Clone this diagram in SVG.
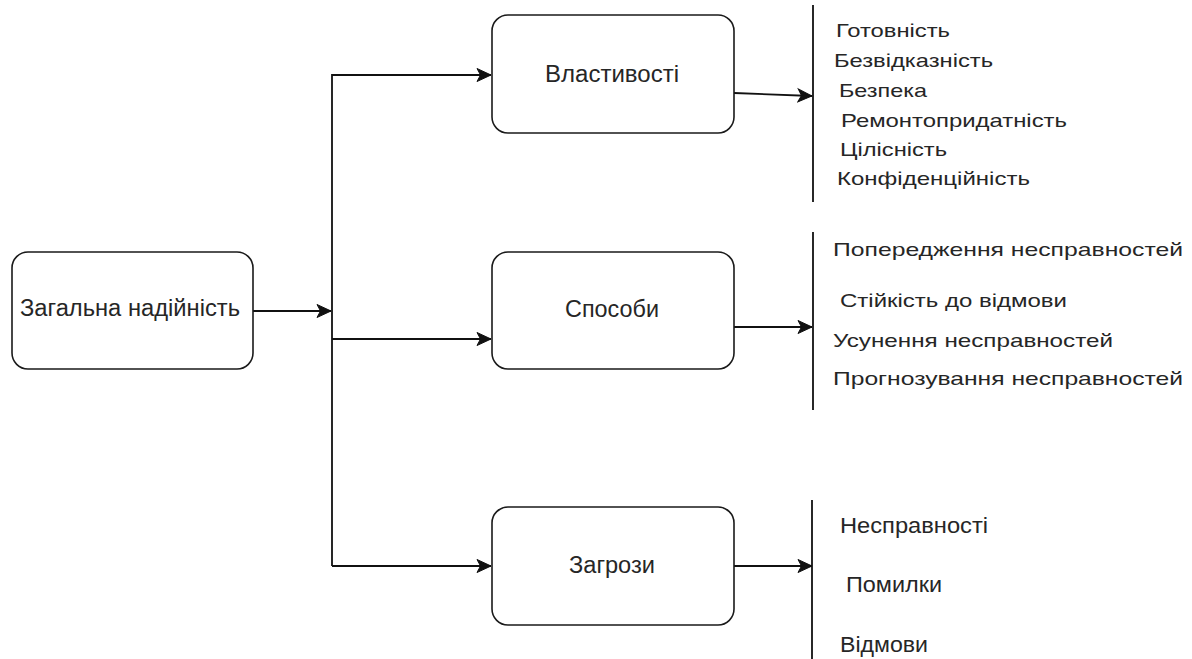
<svg xmlns="http://www.w3.org/2000/svg" width="1192" height="659" viewBox="0 0 1192 659">
  <style>
    .box { fill: #ffffff; stroke: #1a1a1a; stroke-width: 1.6; }
    .conn { fill: none; stroke: #111111; stroke-width: 1.8; }
    .bar { fill: none; stroke: #111111; stroke-width: 1.8; }
    .lbl { font-family: "Liberation Sans", Arial, sans-serif; fill: #262626; }
    .node { font-size: 23px; }
    .top { font-size: 18.5px; }
    .bot { font-size: 22px; }
  </style>
  <defs>
    <marker id="arr" viewBox="0 0 16 16" refX="15" refY="8" markerWidth="16" markerHeight="16" orient="auto" markerUnits="userSpaceOnUse">
      <path d="M1,1.5 L15,8 L1,14.5 L4.5,8 Z" fill="#111111" stroke="#111111" stroke-width="1" stroke-linejoin="miter"/>
    </marker>
  </defs>
  <rect width="1192" height="659" fill="#ffffff"/>

  <g id="connectors">
    <line class="conn" x1="253" y1="311" x2="331" y2="311" marker-end="url(#arr)"/>
    <polyline class="conn" points="332,566 332,75 491,75" marker-end="url(#arr)"/>
    <line class="conn" x1="332" y1="339" x2="491" y2="339" marker-end="url(#arr)"/>
    <line class="conn" x1="332" y1="566" x2="491" y2="566" marker-end="url(#arr)"/>
    <line class="conn" x1="734" y1="93" x2="812" y2="96" marker-end="url(#arr)"/>
    <line class="conn" x1="734" y1="327" x2="812" y2="327" marker-end="url(#arr)"/>
    <line class="conn" x1="734" y1="566" x2="812" y2="566" marker-end="url(#arr)"/>
  </g>

  <g id="node-general">
    <rect class="box" x="12" y="252" width="241" height="117" rx="16" ry="16"/>
    <text class="lbl node" x="20" y="316" textLength="220" lengthAdjust="spacingAndGlyphs">Загальна надійність</text>
  </g>

  <g id="node-properties">
    <rect class="box" x="492" y="15" width="242" height="118" rx="16" ry="16"/>
    <text class="lbl node" x="545" y="82" textLength="134" lengthAdjust="spacingAndGlyphs">Властивості</text>
  </g>

  <g id="node-methods">
    <rect class="box" x="492" y="252" width="242" height="117" rx="16" ry="16"/>
    <text class="lbl node" x="565" y="317" textLength="94" lengthAdjust="spacingAndGlyphs">Способи</text>
  </g>

  <g id="node-threats">
    <rect class="box" x="492" y="507" width="242" height="118" rx="16" ry="16"/>
    <text class="lbl node" x="569" y="573" textLength="86" lengthAdjust="spacingAndGlyphs">Загрози</text>
  </g>

  <g id="list-properties">
    <line class="bar" x1="813" y1="5" x2="813" y2="202"/>
    <text class="lbl top" x="836" y="37" textLength="114" lengthAdjust="spacingAndGlyphs">Готовність</text>
    <text class="lbl top" x="834" y="67" textLength="159" lengthAdjust="spacingAndGlyphs">Безвідказність</text>
    <text class="lbl top" x="839" y="97" textLength="88" lengthAdjust="spacingAndGlyphs">Безпека</text>
    <text class="lbl top" x="841" y="127" textLength="226" lengthAdjust="spacingAndGlyphs">Ремонтопридатність</text>
    <text class="lbl top" x="840" y="156" textLength="107" lengthAdjust="spacingAndGlyphs">Цілісність</text>
    <text class="lbl top" x="837" y="185" textLength="193" lengthAdjust="spacingAndGlyphs">Конфіденційність</text>
  </g>

  <g id="list-methods">
    <line class="bar" x1="813" y1="232" x2="813" y2="410"/>
    <text class="lbl top" x="833" y="256" textLength="350" lengthAdjust="spacingAndGlyphs">Попередження несправностей</text>
    <text class="lbl top" x="840" y="307" textLength="227" lengthAdjust="spacingAndGlyphs">Стійкість до відмови</text>
    <text class="lbl top" x="833" y="347" textLength="280" lengthAdjust="spacingAndGlyphs">Усунення несправностей</text>
    <text class="lbl top" x="833" y="385" textLength="350" lengthAdjust="spacingAndGlyphs">Прогнозування несправностей</text>
  </g>

  <g id="list-threats">
    <line class="bar" x1="812" y1="500" x2="812" y2="659"/>
    <text class="lbl bot" x="840" y="533" textLength="148" lengthAdjust="spacingAndGlyphs">Несправності</text>
    <text class="lbl bot" x="846" y="592" textLength="96" lengthAdjust="spacingAndGlyphs">Помилки</text>
    <text class="lbl bot" x="840" y="652" textLength="88" lengthAdjust="spacingAndGlyphs">Відмови</text>
  </g>
</svg>
